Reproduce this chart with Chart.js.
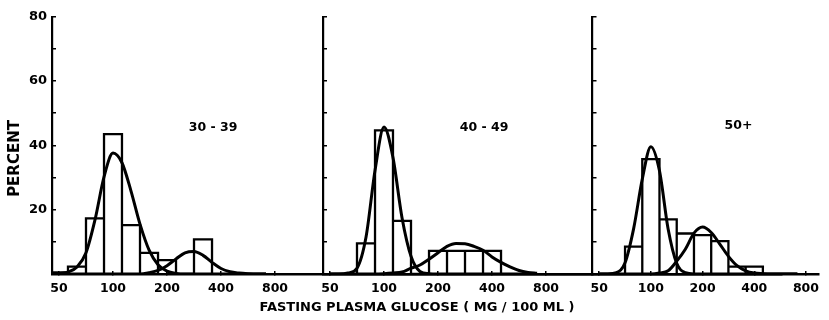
<!DOCTYPE html>
<html>
<head>
<meta charset="utf-8">
<title>Fasting plasma glucose by age group</title>
<script src="https://cdn.jsdelivr.net/npm/chart.js@4.4.1/dist/chart.umd.min.js"></script>
<style>
  body { margin: 0; background: #fff; }
  #wrap { position: relative; width: 829px; height: 320px; }
  #wrap canvas { position: absolute; left: 0; top: 0; }
</style>
</head>
<body>
<div id="wrap">
  <canvas id="p1" width="829" height="320"></canvas>
  <canvas id="p2" width="829" height="320"></canvas>
  <canvas id="p3" width="829" height="320"></canvas>
</div>
<script>
// x axis labels (mg / 100 ml, log axis)
const glucoseTicks = [50, 100, 200, 400, 800];

// histogram bins: 1/3 octave wide, centred on 50, 63, 79, 100 ... 504
const binEdges = [44.5, 56.1, 70.7, 89.1, 112.2, 141.4, 178.2, 224.5, 282.8, 356.4, 449, 566];

// percent of subjects per bin
const bars3039 = [0.5, 2.3, 17.3, 43.5, 15.2, 6.6, 4.3, 0, 10.8, 0, 0];
const bars4049 = [0, 0, 9.5, 44.7, 16.5, 0, 7.2, 7.2, 7.2, 7.2, 0];
const bars50up = [0, 0, 8.5, 35.7, 17.0, 12.6, 12.1, 10.2, 2.3, 2.3, 0];

const curveX = [50, 56.1, 63, 70.7, 79.4, 89.1, 100, 112.2, 126, 141.4, 158.7, 178.2,
                200, 224.5, 252, 282.8, 317.5, 356.4, 400, 449, 504, 566, 635, 713];
const fit3039a = [0.1, 0.6, 2.2, 6.6, 16.9, 30.2, 37.6, 34.6, 25.8, 15.5, 7.5, 2.9,
                  0.9, 0.2, 0, 0, 0, 0, 0, 0, 0, 0, 0, 0];
const fit3039b = [0, 0, 0, 0, 0, 0, 0, 0, 0, 0, 0.4, 1.1,
                  2.6, 4.7, 6.6, 7.0, 5.8, 3.6, 1.7, 0.7, 0.3, 0.1, 0, 0];
const fit4049a = [0, 0, 0.3, 1.8, 11.5, 32.2, 45.7, 36.2, 17.5, 5.5, 0.8, 0.1,
                  0, 0, 0, 0, 0, 0, 0, 0, 0, 0, 0, 0];
const fit4049b = [0, 0, 0, 0, 0, 0, 0.1, 0.3, 0.6, 1.8, 2.8, 4.6,
                  6.6, 8.6, 9.5, 9.4, 8.6, 7.4, 5.3, 3.6, 2.2, 1.1, 0.5, 0.2];
const fit50upa = [0, 0, 0.4, 3.5, 14.2, 29.5, 39.6, 32.1, 14.0, 3.3, 0.4, 0,
                  0, 0, 0, 0, 0, 0, 0, 0, 0, 0, 0, 0];
const fit50upb = [0, 0, 0, 0, 0, 0, 0, 0.3, 1.0, 4.0, 7.7, 12.7,
                  14.6, 12.9, 9.3, 5.5, 2.6, 1.0, 0.3, 0.1, 0, 0, 0, 0];

Chart.defaults.font.family = '"DejaVu Sans", sans-serif';
Chart.defaults.color = '#000';

const INK = '#000';

// outline of the histogram bars, as one line through the bin corners
function histOutline(heights) {
    const pts = [];
    heights.forEach((h, i) => {
        if (!h) return;
        pts.push({x: binEdges[i], y: 0}, {x: binEdges[i], y: h},
                 {x: binEdges[i + 1], y: h}, {x: binEdges[i + 1], y: 0});
    });
    return pts;
}

function curve(values) {
    return {
        data: curveX.map((g, i) => ({x: g, y: values[i]})),
        borderColor: INK,
        borderWidth: 3,
        cubicInterpolationMode: 'monotone',
        pointRadius: 0
    };
}

// age group label inside each panel
const panelLabel = {
    id: 'panelLabel',
    afterDatasetsDraw(chart, args, opts) {
        const {ctx, scales} = chart;
        ctx.save();
        ctx.font = 'bold 12.5px "DejaVu Sans"';
        ctx.fillStyle = INK;
        ctx.textAlign = 'center';
        ctx.textBaseline = 'middle';
        ctx.fillText(opts.text, scales.x.getPixelForValue(opts.at[0]), scales.y.getPixelForValue(opts.at[1]));
        ctx.restore();
    }
};

function panel(id, bars, fits, label, opt) {
    new Chart(document.getElementById(id), {
        type: 'line',
        data: {
            datasets: [{
                data: histOutline(bars),
                borderColor: INK,
                borderWidth: 2.3,
                tension: 0,
                pointRadius: 0
            }].concat(fits.map(curve))
        },
        options: {
            responsive: false,
            animation: false,
            devicePixelRatio: 1,
            layout: {padding: {top: 16, bottom: 0, left: opt.left, right: opt.right}},
            plugins: {
                legend: {display: false},
                tooltip: {enabled: false},
                panelLabel: label
            },
            scales: {
                x: {
                    type: 'logarithmic',
                    min: 45.7,
                    max: opt.xMax,
                    bounds: 'data',
                    afterBuildTicks: axis => { axis.ticks = glucoseTicks.map(v => ({value: v})); },
                    afterFit: axis => { axis.height = 46; },
                    ticks: {
                        autoSkip: false,
                        maxRotation: 0,
                        padding: 10,
                        font: {size: 12.5, weight: 'bold'},
                        callback: v => String(v)
                    },
                    grid: {drawOnChartArea: false, tickLength: -3, color: INK, lineWidth: 1.5},
                    border: {color: INK, width: 2.5},
                    title: {
                        display: !!opt.xTitle,
                        text: opt.xTitle || '',
                        font: {size: 13, weight: 'bold'},
                        padding: {top: 0, bottom: 5}
                    }
                },
                y: {
                    type: 'linear',
                    min: 0,
                    max: 80,
                    afterFit: axis => { axis.width = opt.yWidth; },
                    ticks: {
                        stepSize: 10,
                        padding: 9,
                        font: {size: 13, weight: 'bold'},
                        callback: v => (opt.yLabels && v > 0 && v % 20 === 0) ? String(v) : ''
                    },
                    grid: {drawOnChartArea: false, tickLength: -4, color: INK, lineWidth: 1.5},
                    border: {color: INK, width: 2.2},
                    title: {
                        display: !!opt.yLabels,
                        text: 'PERCENT     ',
                        font: {size: 15, weight: 'bold'},
                        padding: {top: 6, bottom: 0}
                    }
                }
            }
        },
        plugins: [panelLabel]
    });
}

panel('p1', bars3039, [fit3039a, fit3039b], {text: '30 - 39', at: [361, 45.6]},
      {left: 0, right: 47, yWidth: 52, xMax: 536000, yLabels: true,
       xTitle: 'FASTING PLASMA GLUCOSE ( MG / 100 ML )'});
panel('p2', bars4049, [fit4049a, fit4049b], {text: '40 - 49', at: [361, 45.6]},
      {left: 313, right: 236, yWidth: 10, xMax: 1462});
panel('p3', bars50up, [fit50upa, fit50upb], {text: '50+', at: [324, 46.2]},
      {left: 582.5, right: 0, yWidth: 10, xMax: 951});
</script>
</body>
</html>
